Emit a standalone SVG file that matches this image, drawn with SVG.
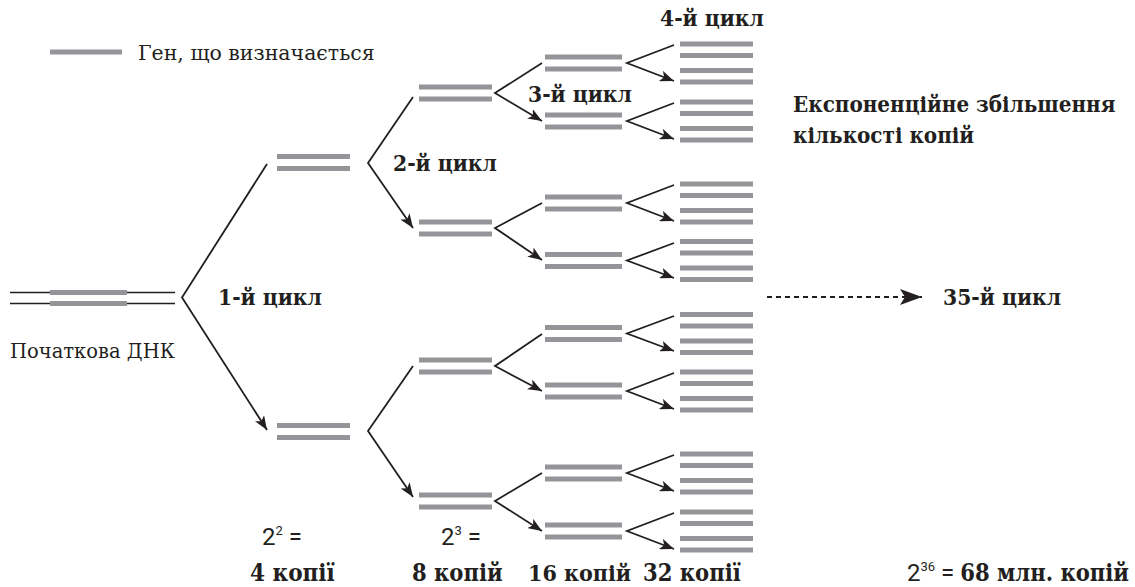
<svg xmlns="http://www.w3.org/2000/svg" width="1135" height="587" viewBox="0 0 1135 587">
<style>
.bar{stroke:#939598;stroke-width:5;fill:none}
.dna{stroke:#231f20;stroke-width:1.6;fill:none}
.c{stroke:#231f20;stroke-width:1.8;fill:none;marker-end:url(#ah)}
.b{font-family:"DejaVu Serif Condensed","DejaVu Serif",serif;font-stretch:condensed;font-weight:bold;font-size:22.6px;fill:#231f20}
.r{font-family:"DejaVu Serif",serif;font-size:20.5px;fill:#231f20}
.s{font-family:Roboto,"Open Sans",sans-serif;font-size:24px;fill:#231f20}
.sup{font-size:13px}
</style>
<defs>
<marker id="ah" markerUnits="userSpaceOnUse" markerWidth="14" markerHeight="11" refX="14" refY="5.5" orient="auto"><path d="M0,0 L14,5.5 L0,11 L3.5,5.5 z" fill="#231f20"/></marker>
<marker id="ahb" markerUnits="userSpaceOnUse" markerWidth="22" markerHeight="16" refX="22" refY="8" orient="auto"><path d="M0,0 L22,8 L0,16 L5,8 z" fill="#231f20"/></marker>
</defs>
<g id="legend">
<line class="bar" x1="50" y1="52" x2="122" y2="52"/>
<text class="r" x="138" y="60">Ген, що визначається</text>
</g>
<g id="dna-start">
<line class="dna" x1="10" y1="292.5" x2="175" y2="292.5"/>
<line class="dna" x1="10" y1="303.5" x2="175" y2="303.5"/>
<line class="bar" x1="50" y1="292.5" x2="127" y2="292.5"/>
<line class="bar" x1="50" y1="303.5" x2="127" y2="303.5"/>
<text class="r" x="10" y="358" style="font-size:19.5px">Початкова ДНК</text>
</g>
<g id="cycle1">
<line class="bar" x1="277" y1="156.5" x2="350" y2="156.5"/><line class="bar" x1="277" y1="168.5" x2="350" y2="168.5"/>
<line class="bar" x1="277" y1="425.5" x2="350" y2="425.5"/><line class="bar" x1="277" y1="437.5" x2="350" y2="437.5"/>
</g>
<g id="cycle2">
<line class="bar" x1="419" y1="87" x2="492" y2="87"/><line class="bar" x1="419" y1="99" x2="492" y2="99"/>
<line class="bar" x1="419" y1="222" x2="492" y2="222"/><line class="bar" x1="419" y1="234" x2="492" y2="234"/>
<line class="bar" x1="419" y1="360" x2="492" y2="360"/><line class="bar" x1="419" y1="372" x2="492" y2="372"/>
<line class="bar" x1="419" y1="495" x2="492" y2="495"/><line class="bar" x1="419" y1="507" x2="492" y2="507"/>
</g>
<g id="cycle3">
<line class="bar" x1="545" y1="57" x2="622" y2="57"/><line class="bar" x1="545" y1="69" x2="622" y2="69"/>
<line class="bar" x1="545" y1="115" x2="622" y2="115"/><line class="bar" x1="545" y1="127" x2="622" y2="127"/>
<line class="bar" x1="545" y1="197" x2="622" y2="197"/><line class="bar" x1="545" y1="209" x2="622" y2="209"/>
<line class="bar" x1="545" y1="254.5" x2="622" y2="254.5"/><line class="bar" x1="545" y1="266.5" x2="622" y2="266.5"/>
<line class="bar" x1="545" y1="327.5" x2="622" y2="327.5"/><line class="bar" x1="545" y1="339.5" x2="622" y2="339.5"/>
<line class="bar" x1="545" y1="385" x2="622" y2="385"/><line class="bar" x1="545" y1="397" x2="622" y2="397"/>
<line class="bar" x1="545" y1="467" x2="622" y2="467"/><line class="bar" x1="545" y1="479" x2="622" y2="479"/>
<line class="bar" x1="545" y1="525" x2="622" y2="525"/><line class="bar" x1="545" y1="537" x2="622" y2="537"/>
</g>
<g id="cycle4">
<line class="bar" x1="680" y1="44" x2="753" y2="44"/><line class="bar" x1="680" y1="55.5" x2="753" y2="55.5"/><line class="bar" x1="680" y1="70.5" x2="753" y2="70.5"/><line class="bar" x1="680" y1="82" x2="753" y2="82"/>
<line class="bar" x1="680" y1="102" x2="753" y2="102"/><line class="bar" x1="680" y1="113.5" x2="753" y2="113.5"/><line class="bar" x1="680" y1="128.5" x2="753" y2="128.5"/><line class="bar" x1="680" y1="140" x2="753" y2="140"/>
<line class="bar" x1="680" y1="184" x2="753" y2="184"/><line class="bar" x1="680" y1="195.5" x2="753" y2="195.5"/><line class="bar" x1="680" y1="210.5" x2="753" y2="210.5"/><line class="bar" x1="680" y1="222" x2="753" y2="222"/>
<line class="bar" x1="680" y1="241.5" x2="753" y2="241.5"/><line class="bar" x1="680" y1="253" x2="753" y2="253"/><line class="bar" x1="680" y1="268" x2="753" y2="268"/><line class="bar" x1="680" y1="279.5" x2="753" y2="279.5"/>
<line class="bar" x1="680" y1="314.5" x2="753" y2="314.5"/><line class="bar" x1="680" y1="326" x2="753" y2="326"/><line class="bar" x1="680" y1="341" x2="753" y2="341"/><line class="bar" x1="680" y1="352.5" x2="753" y2="352.5"/>
<line class="bar" x1="680" y1="372" x2="753" y2="372"/><line class="bar" x1="680" y1="383.5" x2="753" y2="383.5"/><line class="bar" x1="680" y1="398.5" x2="753" y2="398.5"/><line class="bar" x1="680" y1="410" x2="753" y2="410"/>
<line class="bar" x1="680" y1="454" x2="753" y2="454"/><line class="bar" x1="680" y1="465.5" x2="753" y2="465.5"/><line class="bar" x1="680" y1="480.5" x2="753" y2="480.5"/><line class="bar" x1="680" y1="492" x2="753" y2="492"/>
<line class="bar" x1="680" y1="512" x2="753" y2="512"/><line class="bar" x1="680" y1="523.5" x2="753" y2="523.5"/><line class="bar" x1="680" y1="538.5" x2="753" y2="538.5"/><line class="bar" x1="680" y1="550" x2="753" y2="550"/>
</g>
<g id="connectors">
<path class="c" d="M267,164 L182,297.5 L267,430"/>
<path class="c" d="M413,97 L368,163 L413,228"/>
<path class="c" d="M413,366 L368,431 L413,497"/>
<path class="c" d="M542,63 L495,93 L542,121"/>
<path class="c" d="M542,203 L495,228 L542,260"/>
<path class="c" d="M542,334 L495,366 L542,391"/>
<path class="c" d="M542,473 L495,501 L542,531"/>
<path class="c" d="M674,45 L627,63 L674,81"/>
<path class="c" d="M674,103 L627,121 L674,139"/>
<path class="c" d="M674,185 L627,203 L674,221"/>
<path class="c" d="M674,243 L627,260.5 L674,278"/>
<path class="c" d="M674,316 L627,333.5 L674,351"/>
<path class="c" d="M674,373 L627,391 L674,409"/>
<path class="c" d="M674,455 L627,473 L674,491"/>
<path class="c" d="M674,513 L627,531 L674,549"/>
<line x1="767" y1="297" x2="922" y2="297" stroke="#231f20" stroke-width="1.8" stroke-dasharray="5,4" marker-end="url(#ahb)"/>
</g>
<g id="labels">
<text class="b" x="218" y="305">1-й цикл</text>
<text class="b" x="393" y="171">2-й цикл</text>
<text class="b" x="528" y="102">3-й цикл</text>
<text class="b" x="660" y="26">4-й цикл</text>
<text class="b" x="943" y="305">35-й цикл</text>
<text class="b" x="793" y="112" style="font-size:22.2px">Експоненційне збільшення</text>
<text class="b" x="793" y="143" style="font-size:22.2px">кількості копій</text>
<text class="s" x="262" y="545">2<tspan class="sup" dy="-10">2</tspan><tspan dy="10"> =</tspan></text>
<text class="s" x="441" y="545">2<tspan class="sup" dy="-10">3</tspan><tspan dy="10"> =</tspan></text>
<text class="b" x="250" y="581" style="font-size:24px">4 копії</text>
<text class="b" x="412" y="581" style="font-size:23.5px">8 копій</text>
<text class="b" x="528" y="581" style="font-size:23px">16 копій</text>
<text class="b" x="643" y="581" style="font-size:23.5px">32 копії</text>
<text class="s" x="907" y="581">2<tspan class="sup" dy="-10">36</tspan><tspan dy="10"> = </tspan><tspan class="b" style="font-size:23.5px">68 млн. копій</tspan></text>
</g>
</svg>
